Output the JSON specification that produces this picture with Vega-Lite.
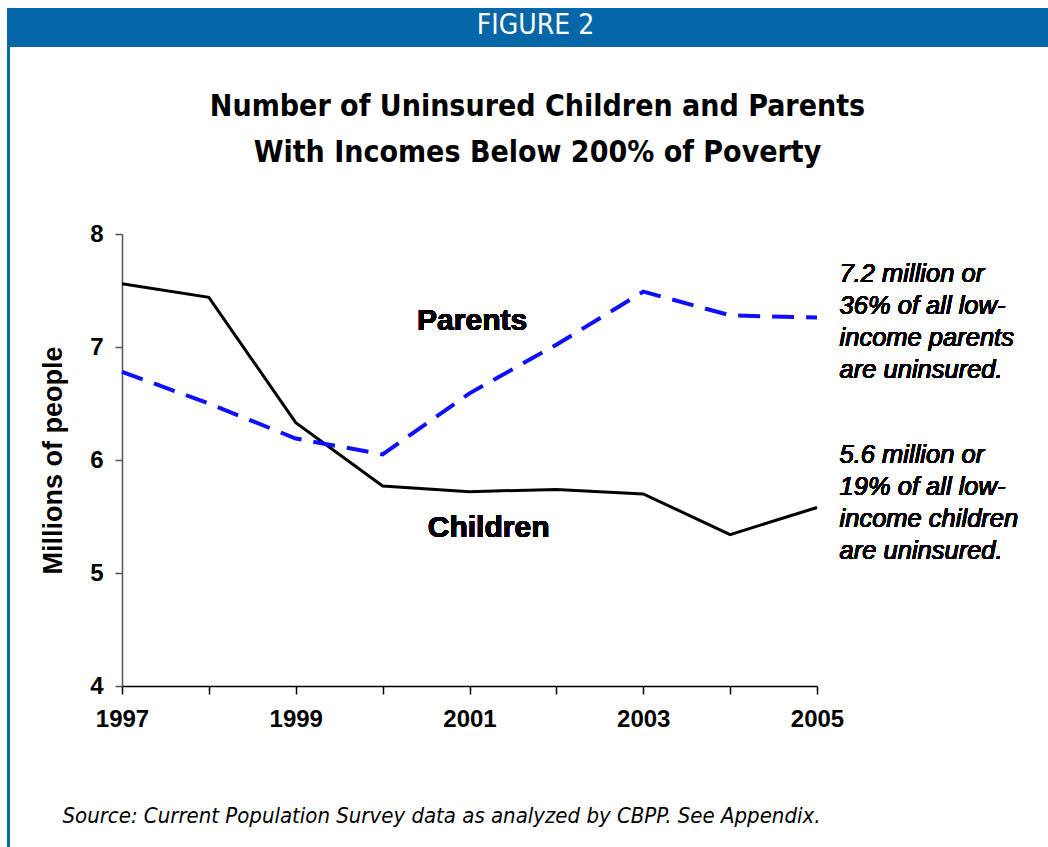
{
  "$schema": "https://vega.github.io/schema/vega-lite/v6.json",
  "padding": {"left": 7, "top": 8, "right": 0, "bottom": 0},
  "background": "white",
  "bounds": "flush",
  "spacing": 0,
  "config": {"view": {"stroke": null}, "font": "Liberation Sans"},
  "vconcat": [
    {
      "width": 1041,
      "height": 39,
      "view": {"fill": "#0566a8", "stroke": null},
      "data": {"values": [{"label": "FIGURE 2"}]},
      "title": {
        "text": ["Number of Uninsured Children and Parents", "With Incomes Below 200% of Poverty"],
        "orient": "bottom",
        "anchor": "middle",
        "offset": 45,
        "dx": 10,
        "font": "'DejaVu Sans Condensed', 'Liberation Sans', sans-serif",
        "fontSize": 30,
        "fontWeight": "bold",
        "color": "#000000",
        "lineHeight": 46
      },
      "mark": {"type": "text", "color": "#ffffff", "font": "'DejaVu Sans Condensed', 'Liberation Sans', sans-serif", "fontSize": 28, "baseline": "middle", "align": "center", "dx": 8, "dy": -2},
      "encoding": {"text": {"field": "label", "type": "nominal"}}
    },
    {
      "bounds": "flush",
      "spacing": 0,
      "hconcat": [
        {
          "width": 3,
          "height": 800,
          "view": {"fill": "#0566a8", "stroke": null},
          "data": {"values": [{"label": "border"}]},
          "mark": {"type": "rect", "color": "#0566a8"},
          "encoding": {}
        },
        {
          "width": 1038,
          "height": 800,
          "data": {
            "values": [
              {"year": 1997, "series": "Children", "value": 7.56},
              {"year": 1998, "series": "Children", "value": 7.44},
              {"year": 1999, "series": "Children", "value": 6.33},
              {"year": 2000, "series": "Children", "value": 5.77},
              {"year": 2001, "series": "Children", "value": 5.72},
              {"year": 2002, "series": "Children", "value": 5.74},
              {"year": 2003, "series": "Children", "value": 5.70},
              {"year": 2004, "series": "Children", "value": 5.34},
              {"year": 2005, "series": "Children", "value": 5.58},
              {"year": 1997, "series": "Parents", "value": 6.78},
              {"year": 1998, "series": "Parents", "value": 6.50},
              {"year": 1999, "series": "Parents", "value": 6.19},
              {"year": 2000, "series": "Parents", "value": 6.05},
              {"year": 2001, "series": "Parents", "value": 6.59},
              {"year": 2002, "series": "Parents", "value": 7.02},
              {"year": 2003, "series": "Parents", "value": 7.49},
              {"year": 2004, "series": "Parents", "value": 7.28},
              {"year": 2005, "series": "Parents", "value": 7.26}
            ]
          },
          "layer": [
            {
              "transform": [{"filter": "datum.series === 'Children'"}],
              "mark": {"type": "line", "color": "#000000", "strokeWidth": 3, "strokeJoin": "miter"},
              "encoding": {
                "x": {
                  "field": "year",
                  "type": "quantitative",
                  "scale": {"domain": [1997, 2005], "range": [112, 807], "nice": false, "zero": false},
                  "axis": {
                    "orient": "bottom",
                    "offset": -161,
                    "values": [1997, 1998, 1999, 2000, 2001, 2002, 2003, 2004, 2005],
                    "format": "d",
                    "labelExpr": "datum.value % 2 == 1 ? datum.label : ''",
                    "labelFont": "Liberation Sans",
                    "labelFontSize": 24,
                    "labelFontWeight": "bold",
                    "labelColor": "#000000",
                    "labelPadding": 13,
                    "labelFlush": false,
                    "labelOverlap": false,
                    "tickSize": 8,
                    "tickColor": "#000000",
                    "tickWidth": 1.5,
                    "domainColor": "#000000",
                    "domainWidth": 1.5,
                    "grid": false,
                    "title": "Source: Current Population Survey data as analyzed by CBPP.  See Appendix.",
                    "titleFont": "'DejaVu Sans Condensed', 'Liberation Sans', sans-serif",
                    "titleFontStyle": "italic",
                    "titleFontWeight": "normal",
                    "titleFontSize": 22,
                    "titleColor": "#000000",
                    "titleX": 52,
                    "titleY": 136,
                    "titleAlign": "left",
                    "titleBaseline": "alphabetic"
                  }
                },
                "y": {
                  "field": "value",
                  "type": "quantitative",
                  "scale": {"domain": [4, 8], "range": [639, 187], "nice": false, "zero": false},
                  "axis": {
                    "orient": "left",
                    "offset": -112,
                    "values": [4, 5, 6, 7, 8],
                    "format": "d",
                    "labelFont": "Liberation Sans",
                    "labelFontSize": 24,
                    "labelFontWeight": "bold",
                    "labelColor": "#000000",
                    "labelPadding": 12,
                    "tickSize": 7,
                    "tickColor": "#555555",
                    "tickWidth": 1.5,
                    "domainColor": "#555555",
                    "domainWidth": 1.5,
                    "grid": false,
                    "title": "Millions of people",
                    "titleFont": "Liberation Sans",
                    "titleFontSize": 27,
                    "titleFontWeight": "bold",
                    "titleColor": "#000000",
                    "titlePadding": 22
                  }
                }
              }
            },
            {
              "transform": [{"filter": "datum.series === 'Parents'"}],
              "mark": {"type": "line", "color": "#0f0fff", "strokeWidth": 4, "strokeDash": [22, 12]},
              "encoding": {
                "x": {"field": "year", "type": "quantitative"},
                "y": {"field": "value", "type": "quantitative"}
              }
            },
            {
              "mark": {"type": "text", "font": "Liberation Sans", "fontSize": 30, "fontWeight": "bold", "color": "#000000", "align": "center", "baseline": "middle"},
              "encoding": {
                "x": {"datum": 2001.03, "type": "quantitative"},
                "y": {"datum": 7.23, "type": "quantitative"},
                "text": {"value": "Parents"}
              }
            },
            {
              "mark": {"type": "text", "font": "Liberation Sans", "fontSize": 30, "fontWeight": "bold", "color": "#000000", "align": "center", "baseline": "middle"},
              "encoding": {
                "x": {"datum": 2001.22, "type": "quantitative"},
                "y": {"datum": 5.40, "type": "quantitative"},
                "text": {"value": "Children"}
              }
            },
            {
              "mark": {"type": "text", "font": "Liberation Sans", "fontSize": 25.5, "fontStyle": "italic", "color": "#000000", "align": "left", "baseline": "alphabetic", "lineHeight": 32},
              "encoding": {
                "x": {"datum": 2005.26, "type": "quantitative"},
                "y": {"datum": 7.575, "type": "quantitative"},
                "text": {"value": ["7.2 million or", "36% of all low-", "income parents", "are uninsured."]}
              }
            },
            {
              "mark": {"type": "text", "font": "Liberation Sans", "fontSize": 25.5, "fontStyle": "italic", "color": "#000000", "align": "left", "baseline": "alphabetic", "lineHeight": 32},
              "encoding": {
                "x": {"datum": 2005.26, "type": "quantitative"},
                "y": {"datum": 5.973, "type": "quantitative"},
                "text": {"value": ["5.6 million or", "19% of all low-", "income children", "are uninsured."]}
              }
            }
          ]
        }
      ]
    }
  ]
}
